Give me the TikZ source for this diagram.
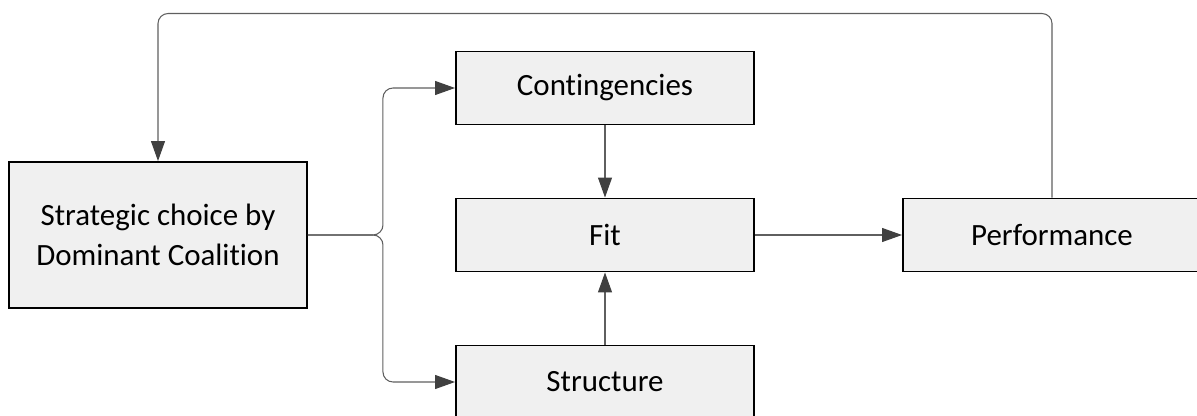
\documentclass[tikz,border=0pt]{standalone}
\usepackage{fontspec}
\setmainfont{Carlito}[Ligatures={NoCommon}]
\usetikzlibrary{arrows.meta,positioning}
\definecolor{boxfill}{HTML}{F0F0F0}
\definecolor{linegray}{HTML}{5F5F5F}
\definecolor{tipgray}{HTML}{404040}

\begin{document}
\begin{tikzpicture}[>={Triangle[length=4mm,width=2.8mm,color=tipgray]},node distance=8.94cm,
        main node/.style={rectangle,draw,fill=boxfill,line width=1.1pt,minimum width=5.96cm,
          minimum height=1.46cm,inner sep=0pt,align=center,font=\fontsize{17.6}{22.8}\selectfont},
        link/.style={draw=linegray,line width=0.6pt,rounded corners=0.2cm}]
        \useasboundingbox (-3.16,-3.62) rectangle (20.78,4.70);
        \node[main node, minimum height=2.92cm] (strat) {Strategic choice by\\Dominant Coalition};
        \node[main node] (fit) [right of=strat] {Fit};
        \node[main node] (perf) [right of=fit] {Performance};
        \node[main node] (cont) [above of=fit, node distance=2.94cm] {Contingencies};
        \node[main node] (struct) [below of=fit, node distance=2.94cm] {Structure};
        \coordinate[right=1.5cm of strat.east] (split);
        \coordinate[above=0.74cm of cont.north] (top);
        % split to the two inputs
        \draw[link,->] (strat.east) -- (split) |- (cont.west);
        \draw[link,->] (strat.east) -- (split) |- (struct.west);
        % feedback loop
        \draw[link,->] (perf.north) |- (top) -| (strat.north);
        \path[link,->]
        (cont) edge (fit)
        (struct) edge (fit)
        (fit) edge (perf)
        ;
\end{tikzpicture}
\end{document}
